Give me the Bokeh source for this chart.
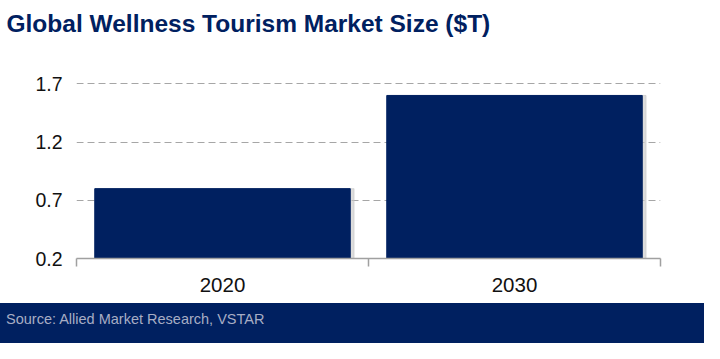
import numpy as np
from bokeh.plotting import figure
from bokeh.layouts import column
from bokeh.models import Range1d, FixedTicker, ColumnDataSource, Div, Title
from bokeh.embed import file_html
from bokeh.resources import INLINE

title_text = "Global Wellness Tourism Market Size ($T)"
years = ["2020", "2030"]
market_size = [0.8, 1.6]
y_ticks = [0.2, 0.7, 1.2, 1.7]
source_text = "Source: Allied Market Research, VSTAR"

NAVY = "#002060"
FONT = "Liberation Sans"

xpos = np.arange(len(years)) + 0.5
src = ColumnDataSource(dict(x=xpos, xs=xpos + 0.013, top=market_size, year=years))

p = figure(width=704, height=303, output_backend="svg", toolbar_location=None,
           x_range=Range1d(0, len(years)), y_range=Range1d(0.2, 1.78),
           min_border_left=76, min_border_right=44, min_border_top=74, min_border_bottom=45,
           outline_line_color=None, background_fill_color="white", border_fill_color="white")

# spacer panel between frame and title, then the title itself (further out)
p.add_layout(Title(text=" ", text_font_size="1px", standoff=35), "above")
p.add_layout(Title(text=title_text, text_font=FONT, text_font_size="24.5px",
                   text_font_style="bold", text_color=NAVY, align="left",
                   offset=-70, standoff=0), "above")

# bars with subtle shadow
p.vbar(x="xs", top="top", bottom=0.2, width=0.875, source=src, color="#C4C4C4", alpha=0.6)
p.vbar(x="x", top="top", bottom=0.2, width=0.875, source=src, color=NAVY)

# axes
xa = p.xaxis[0]
xa.ticker = FixedTicker(ticks=list(xpos), minor_ticks=list(range(len(years) + 1)))
xa.major_label_overrides = {float(x): y for x, y in zip(xpos, years)}
xa.axis_line_color = "#A0A0A0"
xa.axis_line_width = 1.5
xa.major_tick_out = 0
xa.major_tick_in = 0
xa.minor_tick_out = 8
xa.minor_tick_in = 0
xa.minor_tick_line_color = "#A0A0A0"
xa.minor_tick_line_width = 1.5
xa.major_label_text_font = FONT
xa.major_label_text_font_size = "20.5px"
xa.major_label_text_color = "#111111"
xa.major_label_standoff = 11

ya = p.yaxis[0]
ya.ticker = FixedTicker(ticks=y_ticks)
ya.axis_line_color = None
ya.major_tick_line_color = None
ya.minor_tick_line_color = None
ya.major_tick_out = 0
ya.major_tick_in = 0
ya.major_label_text_font = FONT
ya.major_label_text_font_size = "19.5px"
ya.major_label_text_color = "#111111"
ya.major_label_standoff = 14

p.xgrid.grid_line_color = None
p.ygrid.grid_line_color = "#A6A6A6"
p.ygrid.grid_line_dash = "7 4"
p.ygrid.grid_line_width = 1.2

# footer band
footer = Div(text=source_text, width=704, height=40, margin=0,
             styles={"background-color": NAVY, "color": "#A7ADC4",
                     "font-family": "'Liberation Sans', Arial, sans-serif",
                     "font-size": "14.5px", "line-height": "32px",
                     "padding-left": "6px", "box-sizing": "border-box"})

layout = column(p, footer, spacing=0)
open("out.html", "w").write(file_html(layout, INLINE))
